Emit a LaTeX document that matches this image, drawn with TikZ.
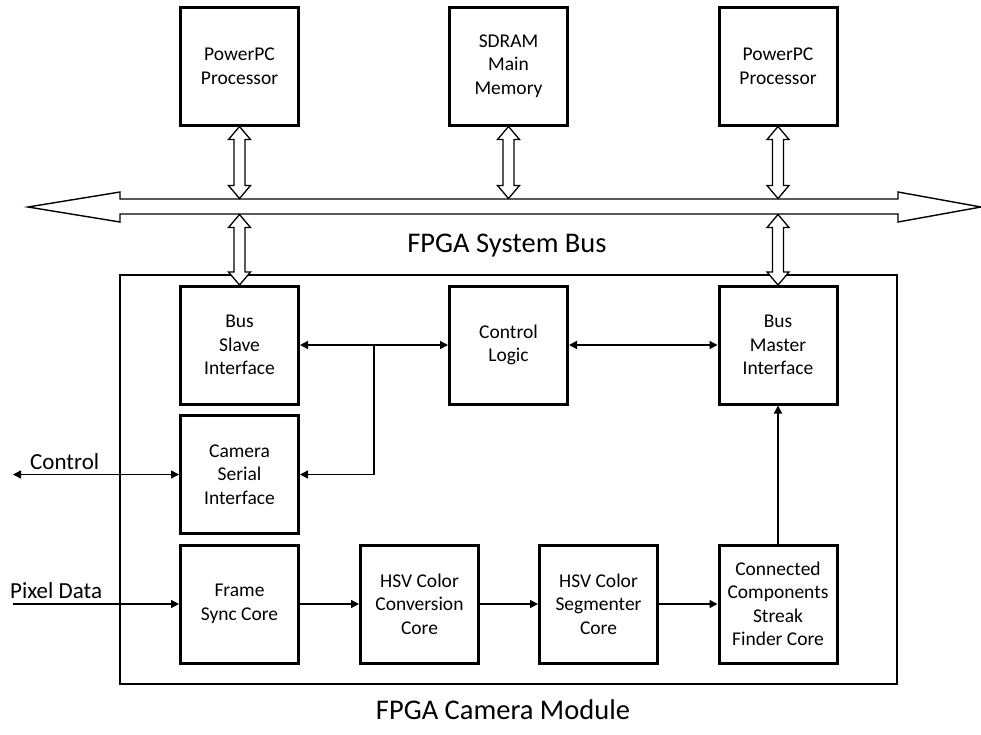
\documentclass[tikz,border=0pt]{standalone}
\usepackage{fontspec}
\setmainfont{Carlito}
\usetikzlibrary{arrows.meta,calc}
\newcommand\boxfont{\fontsize{19.5}{23.5}\selectfont}
\newcommand\lblfont{\fontsize{23}{27}\selectfont}
\newcommand\bigfont{\fontsize{28.5}{33}\selectfont}
\tikzset{
  blk/.style={draw, line width=3pt, minimum width=118pt, minimum height=118pt, align=center, font=\boxfont, inner sep=0pt},
  conn/.style={line width=1.5pt},
  tip/.style={-{Triangle[length=8pt,width=8pt]}},
  bitip/.style={{Triangle[length=8pt,width=8pt]}-{Triangle[length=8pt,width=8pt]}},
  fat/.style={draw, line width=1.3pt, fill=white},
}
% vertical hollow double arrow between two points (#1 top, #2 bottom)
\newcommand\dblarrow[2]{%
  \draw[fat] let \p1=#1, \p2=#2 in
    (\x1,\y1) -- (\x1+11pt,\y1-13pt) -- (\x1+5.5pt,\y1-13pt) -- (\x1+5.5pt,\y2+13pt)
    -- (\x1+11pt,\y2+13pt) -- (\x1,\y2) -- (\x1-11pt,\y2+13pt) -- (\x1-5.5pt,\y2+13pt)
    -- (\x1-5.5pt,\y1-13pt) -- (\x1-11pt,\y1-13pt) -- cycle;}
\begin{document}
\begin{tikzpicture}[x=1pt,y=-1pt]
\useasboundingbox (0,0) rectangle (981,734);
\fill[white] (0,0) rectangle (981,734);

% top row
\node[blk] (pp1) at (239.5,66) {PowerPC\\Processor};
\node[blk] (sd)  at (508.5,66) {SDRAM\\Main\\Memory};
\node[blk] (pp2) at (778,66)   {PowerPC\\Processor};

% system bus
\coordinate (busL) at (28,207);
\coordinate (busR) at (981,207);
\draw[line width=1.4pt, fill=white] (busL) -- (120,192) -- (120,199) -- (898,199) -- (898,192) -- (busR)
  -- (898,222) -- (898,214) -- (120,214) -- (120,222) -- cycle;
\node[font=\bigfont, anchor=base] (bustxt) at (507,252) {FPGA System Bus};

% module frame
\draw[line width=1.5pt] (120,275) rectangle (897,684);
\node[font=\bigfont, anchor=base] (modtxt) at (503,719) {FPGA Camera Module};

% inner blocks
\node[blk] (bs) at (239.5,345) {Bus\\Slave\\Interface};
\node[blk] (cl) at (508.5,345) {Control\\Logic};
\node[blk] (bm) at (778,345)   {Bus\\Master\\Interface};
\node[blk] (cs) at (239.5,474.5) {Camera\\Serial\\Interface};
\node[blk] (fs) at (239.5,604) {Frame\\Sync Core};
\node[blk] (hc) at (419.5,604) {HSV Color\\Conversion\\Core};
\node[blk] (hs) at (598.5,604) {HSV Color\\Segmenter\\Core};
\node[blk] (cc) at (778,604)   {Connected\\Components\\Streak\\Finder Core};

% bus coordinates
\coordinate (b1t) at (239.5,198.5);
\coordinate (b1b) at (239.5,214.5);
\coordinate (b2t) at (508.5,198.5);
\coordinate (b3t) at (778,198.5);
\coordinate (b3b) at (778,214.5);
\coordinate (bsTop) at (239.5,285);
\coordinate (bmTop) at (778,285);

% hollow double arrows
\dblarrow{(pp1.south)}{(b1t)}
\dblarrow{(sd.south)}{(b2t)}
\dblarrow{(pp2.south)}{(b3t)}
\dblarrow{(b1b)}{(bsTop)}
\dblarrow{(b3b)}{(bmTop)}

% connectors
\coordinate (j) at (374,345);
\draw[conn, bitip] (bs.east) -- (cl.west);
\draw[conn, tip] (j) |- (cs.east);
\draw[conn, bitip] (cl.east) -- (bm.west);
\draw[conn, tip] (cc.north) -- (bm.south);
\draw[conn, tip] (fs.east) -- (hc.west);
\draw[conn, tip] (hc.east) -- (hs.west);
\draw[conn, tip] (hs.east) -- (cc.west);

\coordinate (ctl) at (13,474.5);
\coordinate (pix) at (13,604);
\draw[conn, bitip] (ctl) -- (cs.west);
\draw[conn, tip] (pix) -- (fs.west);
\node[font=\lblfont, anchor=base west, inner sep=0pt] (ctltxt) at (30,469) {Control};
\node[font=\lblfont, anchor=base west, inner sep=0pt] (pixtxt) at (10,598) {Pixel Data};
\end{tikzpicture}
\end{document}
